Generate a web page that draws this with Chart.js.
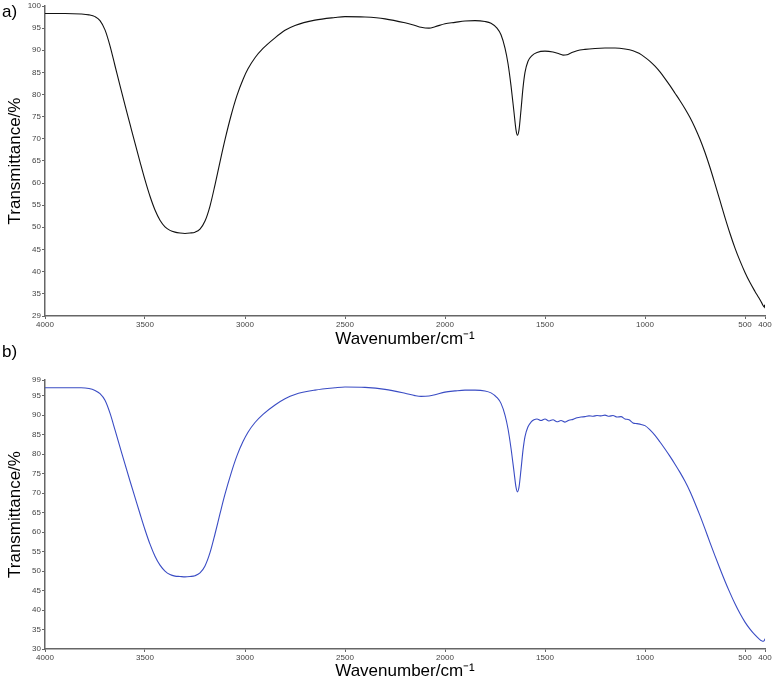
<!DOCTYPE html>
<html>
<head>
<meta charset="utf-8">
<script src="https://cdn.jsdelivr.net/npm/chart.js@4.4.0/dist/chart.umd.min.js"></script>
<style>
  html,body{margin:0;padding:0;background:#fff;}
  body{width:776px;height:682px;position:relative;overflow:hidden;font-family:"Liberation Sans",Arial,sans-serif;}
  #ca{position:absolute;left:0;top:0;}
  #cb{position:absolute;left:0;top:350px;}
  .lab{position:absolute;left:2px;font-size:17px;color:#000;}
</style>
</head>
<body>
<canvas id="ca" width="776" height="350"></canvas>
<canvas id="cb" width="776" height="332"></canvas>
<div class="lab" style="top:2px;">a)</div>
<div class="lab" style="top:342px;">b)</div>
<script>
// ---- data ----
const xTicks = [4000, 3500, 3000, 2500, 2000, 1500, 1000, 500, 400];
const yTicksA = [29.95, 35, 40, 45, 50, 55, 60, 65, 70, 75, 80, 85, 90, 95, 100];
const yTicksB = [30, 35, 40, 45, 50, 55, 60, 65, 70, 75, 80, 85, 90, 95, 99];

const wnA = [4000, 3900, 3820, 3780, 3750, 3725, 3700, 3675, 3650, 3625, 3600, 3575, 3550, 3525, 3500, 3475, 3450, 3425, 3400, 3375, 3350, 3325, 3300, 3275, 3250, 3225, 3200, 3175, 3150, 3125, 3100, 3070, 3040, 3010, 2985, 2950, 2910, 2850, 2800, 2750, 2650, 2550, 2500, 2400, 2300, 2200, 2150, 2120, 2080, 2050, 2000, 1950, 1900, 1850, 1800, 1770, 1740, 1720, 1700, 1685, 1670, 1655, 1645, 1638, 1630, 1620, 1610, 1600, 1585, 1565, 1540, 1500, 1460, 1430, 1410, 1390, 1370, 1340, 1300, 1250, 1200, 1150, 1100, 1060, 1030, 1000, 975, 950, 925, 900, 875, 850, 825, 800, 775, 750, 725, 700, 675, 650, 625, 600, 575, 550, 525, 500, 475, 450, 430, 415, 408, 404, 402, 400];
const tA  = [98.3, 98.3, 98.2, 98.0, 97.6, 96.7, 94.6, 91.0, 86.5, 82.0, 77.6, 73.3, 69.0, 64.8, 60.7, 57.0, 53.9, 51.6, 50.1, 49.3, 48.9, 48.7, 48.6, 48.7, 48.9, 49.6, 51.4, 54.8, 59.6, 64.8, 69.8, 75.2, 79.8, 83.4, 85.8, 88.3, 90.4, 92.8, 94.5, 95.6, 96.8, 97.4, 97.6, 97.5, 97.1, 96.2, 95.6, 95.2, 95.0, 95.3, 96.0, 96.3, 96.6, 96.7, 96.5, 96.1, 95.0, 93.5, 90.5, 87.0, 82.0, 76.0, 72.0, 70.8, 72.0, 76.5, 81.5, 85.0, 87.5, 88.8, 89.5, 89.8, 89.6, 89.2, 88.9, 89.0, 89.4, 89.9, 90.2, 90.4, 90.5, 90.5, 90.3, 89.9, 89.3, 88.4, 87.5, 86.4, 85.1, 83.6, 82.0, 80.3, 78.6, 76.8, 74.8, 72.5, 69.9, 66.9, 63.5, 59.8, 56.0, 52.2, 48.6, 45.3, 42.4, 39.8, 37.5, 35.5, 34.0, 32.8, 32.2, 32.0, 32.4, 31.7];

const wnB = [4000, 3900, 3820, 3780, 3750, 3725, 3700, 3675, 3650, 3625, 3600, 3575, 3550, 3525, 3500, 3475, 3450, 3425, 3400, 3375, 3350, 3325, 3300, 3275, 3250, 3225, 3200, 3175, 3150, 3125, 3100, 3070, 3040, 3010, 2985, 2950, 2910, 2850, 2800, 2750, 2650, 2550, 2500, 2400, 2300, 2200, 2150, 2120, 2080, 2050, 2000, 1950, 1900, 1850, 1800, 1770, 1740, 1720, 1700, 1685, 1670, 1655, 1645, 1638, 1630, 1620, 1610, 1600, 1585, 1570, 1555, 1540, 1520, 1500, 1480, 1460, 1440, 1420, 1400, 1380, 1360, 1340, 1320, 1300, 1280, 1260, 1240, 1220, 1200, 1180, 1160, 1140, 1120, 1100, 1080, 1060, 1040, 1020, 1000, 975, 950, 925, 900, 875, 850, 825, 800, 775, 750, 725, 700, 675, 650, 625, 600, 575, 550, 525, 500, 475, 450, 430, 420, 412, 405, 400];
const tB  = [97.0, 97.0, 97.0, 96.8, 96.3, 95.5, 93.8, 90.5, 86.2, 81.8, 77.4, 73.1, 68.9, 64.7, 60.6, 56.9, 53.8, 51.5, 50.0, 49.1, 48.7, 48.6, 48.5, 48.6, 48.8, 49.5, 51.3, 54.7, 59.5, 64.7, 69.7, 75.0, 79.6, 83.2, 85.6, 88.1, 90.2, 92.6, 94.2, 95.3, 96.4, 97.0, 97.2, 97.1, 96.6, 95.6, 95.0, 94.8, 94.9, 95.2, 95.9, 96.2, 96.4, 96.4, 96.2, 95.7, 94.5, 93.0, 90.0, 86.5, 81.5, 75.5, 71.5, 70.3, 71.5, 76.0, 81.0, 84.5, 87.0, 88.2, 88.8, 89.0, 88.6, 89.0, 88.5, 88.8, 88.3, 88.6, 88.2, 88.7, 88.9, 89.3, 89.5, 89.6, 89.8, 89.7, 89.9, 89.8, 90.0, 89.7, 89.9, 89.5, 89.6, 89.0, 88.8, 88.0, 87.8, 87.6, 87.3, 86.2, 84.8, 83.1, 81.3, 79.4, 77.4, 75.3, 73.0, 70.4, 67.4, 64.2, 60.8, 57.3, 53.9, 50.6, 47.4, 44.4, 41.6, 39.1, 36.9, 35.1, 33.6, 32.6, 32.2, 32.0, 32.1, 32.6];

// ---- chart builder ----
function build(id, wn, tv, color, yMin, yMax, yTicks, lowLabel, padTop, xH) {
  const pts = wn.map((w, i) => ({x: w, y: tv[i]}));
  const tickFont = {family: '"Liberation Sans", Arial, sans-serif', size: 8};
  const titleFont = {family: '"Liberation Sans", Arial, sans-serif', size: 17};
  return new Chart(document.getElementById(id), {
    type: 'line',
    data: {datasets: [{data: pts, borderColor: color, borderWidth: 1.1, pointRadius: 0, fill: false, cubicInterpolationMode: 'monotone'}]},
    options: {
      responsive: false, animation: false,
      layout: {padding: {left: 0, right: 11, top: padTop, bottom: 0}},
      plugins: {legend: {display: false}, tooltip: {enabled: false}},
      scales: {
        x: {
          type: 'linear', reverse: true, min: 400, max: 4000,
          afterBuildTicks: s => { s.ticks = xTicks.map(v => ({value: v})); },
          afterFit: s => { s.height = xH; },
          ticks: {autoSkip: false, maxRotation: 0, font: tickFont, color: '#444', padding: 1, callback: v => String(v)},
          grid: {display: true, drawOnChartArea: false, tickLength: 3, color: '#666'},
          border: {display: true, color: '#666', width: 1.5},
          title: {display: true, text: 'Wavenumber/cm\u207B\u00B9', font: titleFont, color: '#000', padding: {top: 0, bottom: 0}}
        },
        y: {
          min: yMin, max: yMax,
          afterBuildTicks: s => { s.ticks = yTicks.map(v => ({value: v})); },
          afterFit: s => { s.width = 45; },
          ticks: {autoSkip: false, font: tickFont, color: '#444', padding: 1, callback: v => (v === yTicks[0] ? lowLabel : String(v))},
          grid: {display: true, drawOnChartArea: false, tickLength: 3, color: '#666'},
          border: {display: true, color: '#666', width: 1.5},
          title: {display: true, text: 'Transmittance/%', font: titleFont, color: '#000', padding: {top: 5, bottom: 0}}
        }
      }
    }
  });
}

build('ca', wnA, tA, '#111111', 29.95, 100, yTicksA, '29', 6, 34);
build('cb', wnB, tB, '#3a4cc4', 30, 99, yTicksB, '30', 30, 33);
</script>
</body>
</html>
